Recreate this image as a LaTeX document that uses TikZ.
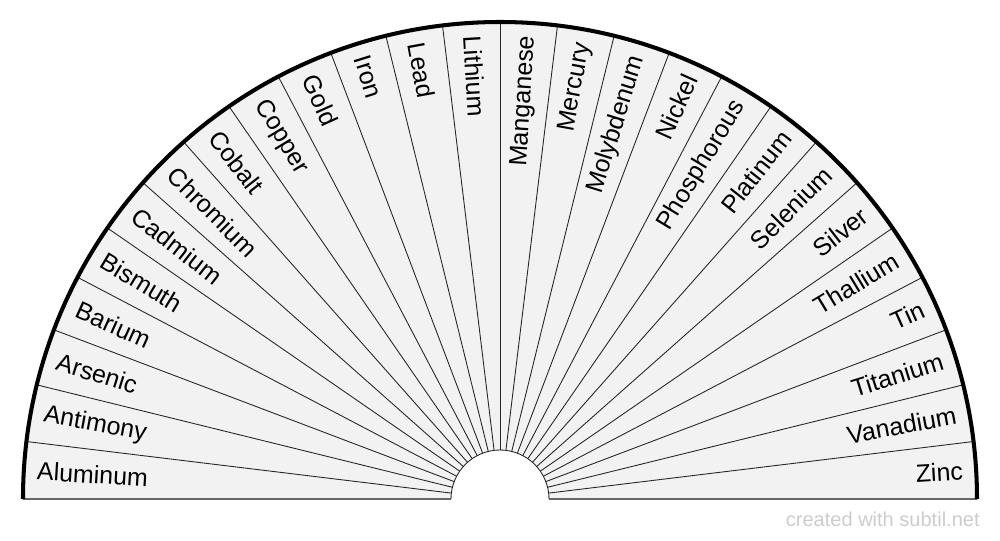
\documentclass[tikz,border=0pt]{standalone}
\usepackage{fontspec}
\setmainfont{Liberation Sans}
\usepackage{tikz}

\begin{document}
\begin{tikzpicture}[
    x=0.2mm, y=0.2mm,
    sector/.style={fill=black!5},
    spoke/.style={draw=black!85, line width=0.5pt},
    rim/.style={draw=black, line width=2.3pt},
    metal/.style={inner sep=0pt, font=\fontsize{14.2}{16}\selectfont},
    credit/.style={inner sep=0pt, text=black!20, font=\fontsize{11.4}{14}\selectfont}
]
    \useasboundingbox (-500, -41) rectangle (500, 499);
    % Fan of the metals
    % - [Fill: half ring]
    \path [sector] (0:477) arc (0:180:477) -- (180:49) arc (180:0:49) -- cycle;
    % -- Spokes between the sectors
    \foreach \k in {1,...,25}
        \draw [spoke] (\k*180/26:49) -- (\k*180/26:477);
    % -- Base line and inner arc
    \draw [draw=black!60, line width=0.9pt] (180:477) -- (180:49);
    \draw [draw=black!60, line width=0.9pt] (0:49) -- (0:477);
    \draw [spoke] (180:49) arc (180:0:49);
    % -- Outer rim
    \draw [rim] (180:477) arc (180:0:477);

    % - [Labels: left half, read inwards]
    \foreach \name [count=\i from 0] in {Aluminum, Antimony, Arsenic, Barium, Bismuth, Cadmium, Chromium, Cobalt, Copper, Gold, Iron, Lead, Lithium} {
        \pgfmathsetmacro\ang{180-(\i+0.5)*180/26}
        \node at (\ang:464) [metal, anchor=west, rotate=\ang+180] (left_\i) {\name};
    }
    % - [Labels: right half, read outwards]
    \foreach \name [count=\i from 0] in {Zinc, Vanadium, Titanium, Tin, Thallium, Silver, Selenium, Platinum, Phosphorous, Nickel, Molybdenum, Mercury, Manganese} {
        \pgfmathsetmacro\ang{(\i+0.5)*180/26}
        \node at (\ang:464) [metal, anchor=east, rotate=\ang] (right_\i) {\name};
    }

    % - [Credit line]
    \node at (480, -20) [credit, anchor=east] (credit) {created with subtil.net};
\end{tikzpicture}
\end{document}
